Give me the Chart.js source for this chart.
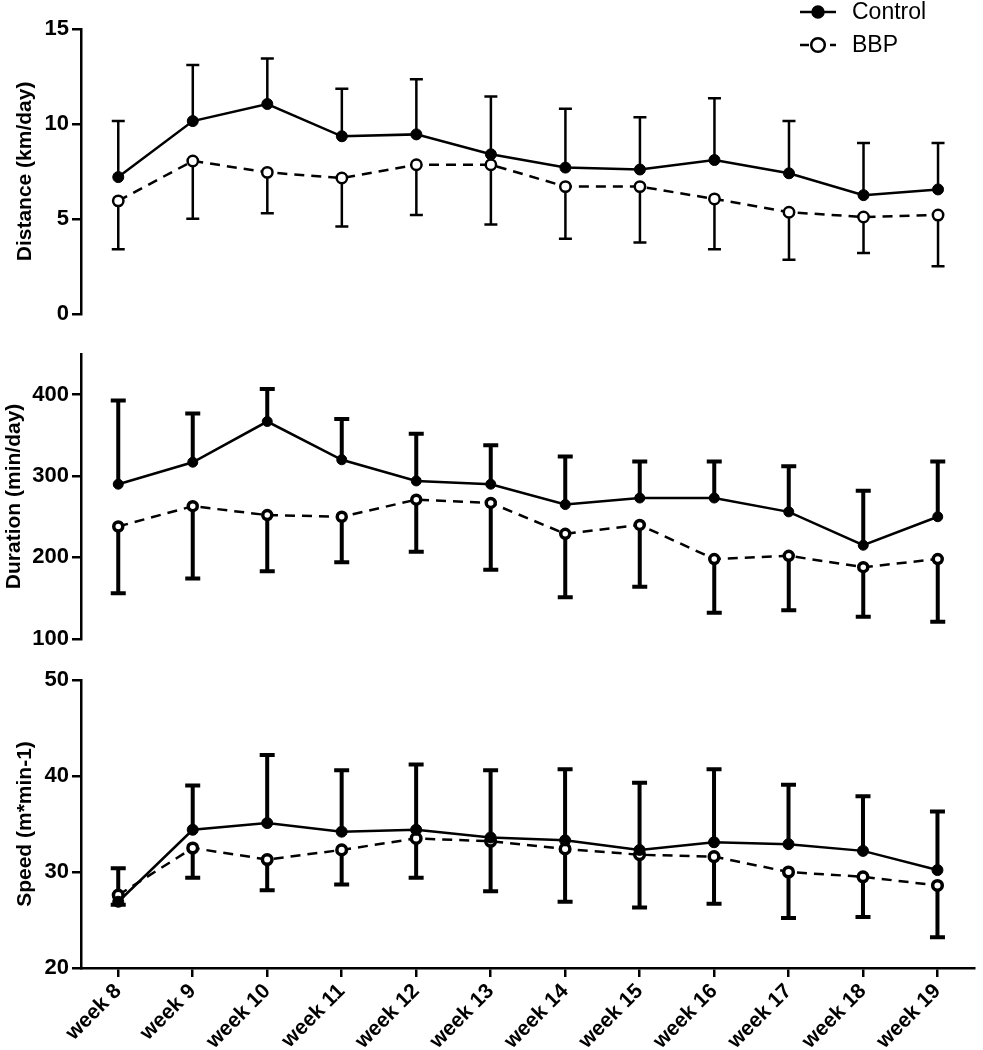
<!DOCTYPE html>
<html>
<head>
<meta charset="utf-8">
<script src="https://cdn.jsdelivr.net/npm/chart.js@4.4.1/dist/chart.umd.min.js"></script>
<style>
  body { margin: 0; background: #fff; }
  #wrap { position: relative; width: 983px; height: 1050px; }
  .panel { position: absolute; left: 0; width: 983px; }
</style>
</head>
<body>
<div id="wrap">
  <div class="panel" style="top:0;height:330px"><canvas id="distanceChart"></canvas></div>
  <div class="panel" style="top:330px;height:325px"><canvas id="durationChart"></canvas></div>
  <div class="panel" style="top:655px;height:395px"><canvas id="speedChart"></canvas></div>
</div>
<script>
const weeks = ['week 8', 'week 9', 'week 10', 'week 11', 'week 12', 'week 13',
               'week 14', 'week 15', 'week 16', 'week 17', 'week 18', 'week 19'];

// Distance (km/day): means, control upper error end, BBP lower error end
const distanceControl      = [7.2, 10.15, 11.05, 9.35, 9.45, 8.4, 7.7, 7.6, 8.1, 7.4, 6.25, 6.55];
const distanceControlUpper = [10.15, 13.1, 13.45, 11.85, 12.35, 11.45, 10.8, 10.35, 11.35, 10.15, 9.0, 9.0];
const distanceBBP          = [5.95, 8.05, 7.45, 7.15, 7.85, 7.85, 6.7, 6.7, 6.05, 5.35, 5.1, 5.2];
const distanceBBPLower     = [3.4, 5.0, 5.3, 4.6, 5.2, 4.7, 3.95, 3.75, 3.4, 2.85, 3.2, 2.5];
const distanceTicks = [0, 5, 10, 15];

// Duration (min/day)
const durationControl      = [290, 317, 367, 320, 294, 290, 265, 273, 273, 256, 215, 250];
const durationControlUpper = [393, 377, 407, 370, 352, 338, 324, 318, 318, 312, 282, 318];
const durationBBP          = [238, 263, 252, 250, 271, 267, 229, 240, 198, 202, 188, 198];
const durationBBPLower     = [156, 174, 183, 194, 207, 185, 151, 164, 132, 135, 127, 121];
const durationTicks = [100, 200, 300, 400];

// Speed (m*min-1)
const speedControl      = [26.9, 34.4, 35.1, 34.2, 34.4, 33.6, 33.3, 32.3, 33.1, 32.9, 32.2, 30.2];
const speedControlUpper = [30.4, 39.0, 42.2, 40.6, 41.2, 40.6, 40.7, 39.3, 40.7, 39.1, 37.9, 36.3];
const speedBBP          = [27.6, 32.5, 31.3, 32.3, 33.5, 33.2, 32.4, 31.8, 31.6, 30.0, 29.5, 28.6];
const speedBBPLower     = [26.6, 29.4, 28.1, 28.7, 29.4, 28.0, 26.9, 26.3, 26.7, 25.2, 25.3, 23.2];
const speedTicks = [20, 30, 40, 50];

Chart.defaults.font.family = "Arial, 'Liberation Sans', sans-serif";
Chart.defaults.color = '#000';

// one-sided error bars, drawn under the points
const errorBars = {
  id: 'errorBars',
  beforeDatasetsDraw(chart, args, opts) {
    const ctx = chart.ctx;
    const y = chart.scales.y;
    chart.data.datasets.forEach((ds, i) => {
      if (!ds.errorEnds) return;
      const meta = chart.getDatasetMeta(i);
      ctx.save();
      ctx.strokeStyle = '#000';
      ctx.lineWidth = opts.width;
      meta.data.forEach((pt, j) => {
        const yEnd = y.getPixelForValue(ds.errorEnds[j]);
        ctx.beginPath();
        ctx.moveTo(pt.x, pt.y);
        ctx.lineTo(pt.x, yEnd);
        ctx.moveTo(pt.x - opts.cap / 2, yEnd);
        ctx.lineTo(pt.x + opts.cap / 2, yEnd);
        ctx.stroke();
      });
      ctx.restore();
    });
  }
};

const legendBox = {
  id: 'legendBox',
  afterDraw(chart) {
    const ctx = chart.ctx;
    const items = [
      { text: 'Control', y: 12, dash: [], fill: '#000', r: 5.5 },
      { text: 'BBP', y: 45, dash: [9, 6], fill: '#fff', r: 6.8 }
    ];
    ctx.save();
    items.forEach(it => {
      ctx.strokeStyle = '#000';
      ctx.lineWidth = 2.5;
      ctx.setLineDash(it.dash);
      ctx.beginPath();
      ctx.moveTo(800, it.y);
      ctx.lineTo(836, it.y);
      ctx.stroke();
      ctx.setLineDash([]);
      ctx.beginPath();
      ctx.arc(818, it.y, it.r, 0, Math.PI * 2);
      ctx.fillStyle = it.fill;
      ctx.fill();
      ctx.lineWidth = 2.5;
      ctx.stroke();
      ctx.fillStyle = '#000';
      ctx.font = "23px Arial, 'Liberation Sans', sans-serif";
      ctx.textBaseline = 'middle';
      ctx.fillText(it.text, 852, it.y + 1);
    });
    ctx.restore();
  }
};

function makePanel(id, cfg) {
  const showX = !!cfg.showX;
  const plugins = [errorBars];
  if (cfg.legend) plugins.push(legendBox);
  return new Chart(document.getElementById(id).getContext('2d'), {
    type: 'line',
    data: {
      labels: weeks,
      datasets: [{
        label: 'Control',
        data: cfg.control,
        errorEnds: cfg.controlUpper,
        borderColor: '#000',
        borderWidth: 2.5,
        backgroundColor: '#000',
        pointBackgroundColor: '#000',
        pointBorderColor: '#000',
        pointBorderWidth: 1,
        pointRadius: cfg.dot,
        tension: 0
      }, {
        label: 'BBP',
        data: cfg.bbp,
        errorEnds: cfg.bbpLower,
        borderColor: '#000',
        borderWidth: 2.5,
        borderDash: [10, 7],
        pointBackgroundColor: '#fff',
        pointBorderColor: '#000',
        pointBorderWidth: cfg.ringWidth,
        pointRadius: cfg.ring,
        tension: 0
      }]
    },
    options: {
      responsive: true,
      maintainAspectRatio: false,
      animation: false,
      events: [],
      layout: { padding: { left: 0, right: 3, top: cfg.padTop, bottom: cfg.padBottom } },
      scales: {
        x: {
          display: showX,
          offset: true,
          border: { display: true, color: '#000', width: 2.5 },
          grid: {
            offset: false,
            drawOnChartArea: false,
            drawTicks: true,
            tickLength: 9,
            color: '#000',
            lineWidth: 2.5
          },
          ticks: {
            autoSkip: false,
            maxRotation: 45,
            minRotation: 45,
            padding: 2,
            color: '#000',
            font: { size: 21, weight: 'bold' }
          },
          afterFit(scale) { if (showX) scale.height = 82; }
        },
        y: {
          min: cfg.min,
          max: cfg.max,
          border: { display: true, color: '#000', width: 2.5 },
          grid: {
            drawOnChartArea: false,
            drawTicks: true,
            tickLength: 9,
            color: '#000',
            lineWidth: 2.5
          },
          ticks: {
            padding: 3,
            color: '#000',
            font: { size: 22, weight: 'bold' }
          },
          afterBuildTicks(scale) {
            scale.ticks = cfg.ticks.map(v => ({ value: v }));
          },
          afterFit(scale) { scale.width = 81; },
          title: {
            display: true,
            text: cfg.title,
            color: '#000',
            font: { size: 21, weight: 'bold' },
            padding: { top: cfg.titlePad, bottom: 0 }
          }
        }
      },
      plugins: {
        legend: { display: false },
        tooltip: { enabled: false },
        errorBars: { width: cfg.barWidth, cap: cfg.cap }
      }
    },
    plugins: plugins
  });
}

makePanel('distanceChart', {
  control: distanceControl, controlUpper: distanceControlUpper,
  bbp: distanceBBP, bbpLower: distanceBBPLower,
  min: 0, max: 15, ticks: distanceTicks,
  title: 'Distance (km/day)', titlePad: 13,
  padTop: 29, padBottom: 13,
  dot: 5.5, ring: 5.2, ringWidth: 2.5, barWidth: 2.5, cap: 13,
  legend: true
});

makePanel('durationChart', {
  control: durationControl, controlUpper: durationControlUpper,
  bbp: durationBBP, bbpLower: durationBBPLower,
  min: 100, max: 450, ticks: durationTicks,
  title: 'Duration (min/day)', titlePad: 2,
  padTop: 24, padBottom: 13,
  dot: 5, ring: 4.5, ringWidth: 3.5, barWidth: 4, cap: 15
});

makePanel('speedChart', {
  control: speedControl, controlUpper: speedControlUpper,
  bbp: speedBBP, bbpLower: speedBBPLower,
  min: 20, max: 50, ticks: speedTicks,
  title: 'Speed (m*min-1)', titlePad: 13,
  padTop: 25, padBottom: 0,
  dot: 5.5, ring: 4.8, ringWidth: 3.5, barWidth: 4, cap: 15,
  showX: true
});
</script>
</body>
</html>
